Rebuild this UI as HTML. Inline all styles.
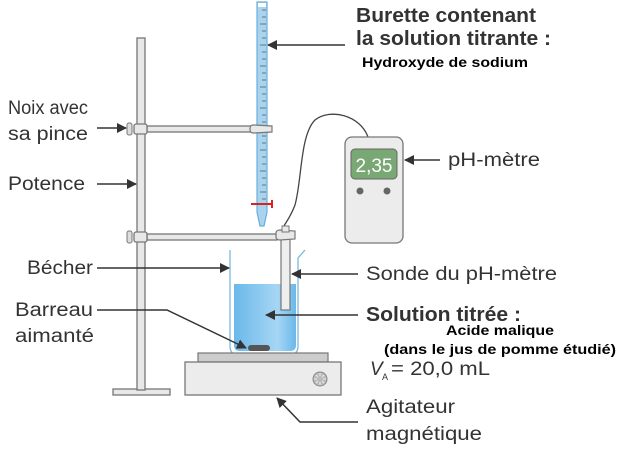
<!DOCTYPE html>
<html><head><meta charset="utf-8"><style>
html,body{margin:0;padding:0;background:#fff}
svg{display:block}
.t{font-family:"Liberation Sans",sans-serif;fill:#333;font-size:19px}
.b{font-family:"Liberation Sans",sans-serif;font-weight:bold;fill:#000;font-size:14px}
</style></head><body>
<svg width="639" height="449" viewBox="0 0 639 449" xmlns="http://www.w3.org/2000/svg">
<defs>
<marker id="ah" markerWidth="10" markerHeight="10" refX="9" refY="5" orient="auto" markerUnits="userSpaceOnUse">
<path d="M0,0 L10,5 L0,10 Z" fill="#333"/></marker>
<linearGradient id="liq" x1="0" x2="1"><stop offset="0" stop-color="#6ab8ea"/><stop offset="0.7" stop-color="#a6d6f4"/><stop offset="1" stop-color="#6ab8ea"/></linearGradient>
</defs>
<rect x="113" y="389" width="57" height="6" fill="#e8e8e8" stroke="#777" stroke-width="1.3"/>
<rect x="137" y="38" width="8" height="352" fill="#e8e8e8" stroke="#777" stroke-width="1.3"/>
<rect x="147" y="126" width="105" height="6" fill="#e8e8e8" stroke="#777" stroke-width="1.3"/>
<rect x="134" y="124" width="13" height="10" rx="2" fill="#e8e8e8" stroke="#777" stroke-width="1.3"/>
<rect x="127" y="123" width="5" height="12" rx="2" fill="#ddd" stroke="#777"/>
<path d="M257,2 L267,2 L267,212 L264,226 L260,226 L257,212 Z" fill="#a8d4f0" stroke="#6aaed8" stroke-width="1.2"/>
<rect x="258" y="3" width="8" height="4" fill="#fff"/>
<g stroke="#555" stroke-width="0.8">
<path d="M262,10h4M262,17h4M260,24h6M262,31h4M262,38h4M260,45h6M262,52h4M262,59h4M260,66h6M262,73h4M262,80h4M260,87h6M262,94h4M262,101h4M260,108h6M262,115h4M262,122h4M260,129h6M262,136h4M262,143h4M260,150h6M262,157h4M262,164h4M260,171h6M262,178h4M262,185h4M260,192h6M262,199h4"/>
</g>
<path d="M250,129 C250,125 252,125 254,125 L272,126 L272,132 L254,133 C252,133 250,133 250,129Z" fill="#e8e8e8" stroke="#777" stroke-width="1.2"/>
<path d="M251,204 H272 M272,200 V208" stroke="#d22" stroke-width="2" fill="none"/>
<rect x="147" y="234" width="130" height="6" fill="#e8e8e8" stroke="#777" stroke-width="1.3"/>
<rect x="134" y="232" width="13" height="10" rx="2" fill="#e8e8e8" stroke="#777" stroke-width="1.3"/>
<rect x="127" y="231" width="5" height="12" rx="2" fill="#ddd" stroke="#777"/>
<path d="M368,137 C360,115 330,108 315,120 C300,135 302,180 295,205 C290,218 286,222 284,226" fill="none" stroke="#444" stroke-width="1.3"/>
<path d="M234,284 H296 V345 Q296,351 290,351 H240 Q234,351 234,345Z" fill="url(#liq)"/>
<path d="M230,250 V346 Q230,355 239,355 H289 Q298,355 298,346 V258 L305,250" fill="none" stroke="#7ab8de" stroke-width="1.3"/>
<rect x="281" y="232" width="9" height="78" fill="#eee" stroke="#777" stroke-width="1.2"/>
<path d="M276,233 C276,231 278,230 280,230 L295,231 L295,239 L280,240 C278,240 276,239 276,237Z" fill="#e8e8e8" stroke="#777" stroke-width="1.2"/>
<rect x="282" y="226" width="7" height="6" fill="#e8e8e8" stroke="#777"/>
<rect x="248" y="345" width="22" height="6" rx="3" fill="#555"/>
<rect x="198" y="353" width="130" height="9" fill="#ccc" stroke="#777" stroke-width="1.2"/>
<rect x="185" y="362" width="156" height="33" fill="#ececec" stroke="#777" stroke-width="1.3"/>
<circle cx="320" cy="379" r="7" fill="#bbb" stroke="#888"/>
<g stroke="#eee" stroke-width="1"><path d="M320,373v12M314,379h12M316,375l8,8M324,375l-8,8"/></g>
<circle cx="320" cy="379" r="3" fill="#bbb"/>
<rect x="345" y="137" width="58" height="106" rx="7" fill="#ececec" stroke="#777" stroke-width="1.3"/>
<rect x="351" y="149" width="46" height="30" rx="4" fill="#7aa874" stroke="#666"/>
<text x="374" y="172" text-anchor="middle" font-family="Liberation Sans,sans-serif" font-size="19" fill="#fff">2,35</text>
<circle cx="360" cy="191" r="3.5" fill="#666"/><circle cx="387" cy="191" r="3.5" fill="#666"/>
<g stroke="#333" stroke-width="1.5" fill="none" marker-end="url(#ah)">
<line x1="345" y1="45" x2="268" y2="45"/>
<line x1="97" y1="128" x2="126" y2="128"/>
<line x1="97" y1="184" x2="136" y2="184"/>
<line x1="97" y1="268" x2="229" y2="268"/>
<polyline points="97,310 167,310 246,348"/>
<line x1="440" y1="160" x2="405" y2="160"/>
<line x1="358" y1="274" x2="292" y2="274"/>
<line x1="358" y1="315" x2="266" y2="315"/>
<polyline points="358,422 300,422 277,398"/>
</g>
<g lengthAdjust="spacingAndGlyphs">
<text class="t" x="356" y="22" font-weight="bold" style="font-size:20px" textLength="180" lengthAdjust="spacingAndGlyphs">Burette contenant</text>
<text class="t" x="356" y="45" font-weight="bold" style="font-size:20px" textLength="195" lengthAdjust="spacingAndGlyphs">la solution titrante :</text>
<text class="b" x="362" y="67" textLength="166" lengthAdjust="spacingAndGlyphs">Hydroxyde de sodium</text>
<text class="t" x="8" y="114" textLength="80" lengthAdjust="spacingAndGlyphs">Noix avec</text>
<text class="t" x="8" y="140" textLength="80" lengthAdjust="spacingAndGlyphs">sa pince</text>
<text class="t" x="8" y="190" textLength="77" lengthAdjust="spacingAndGlyphs">Potence</text>
<text class="t" x="27" y="274" textLength="66" lengthAdjust="spacingAndGlyphs">Bécher</text>
<text class="t" x="15" y="316" textLength="78" lengthAdjust="spacingAndGlyphs">Barreau</text>
<text class="t" x="15" y="342" textLength="79" lengthAdjust="spacingAndGlyphs">aimanté</text>
<text class="t" x="448" y="166" textLength="92" lengthAdjust="spacingAndGlyphs">pH-mètre</text>
<text class="t" x="366" y="280" textLength="191" lengthAdjust="spacingAndGlyphs">Sonde du pH-mètre</text>
<text class="t" x="366" y="321" font-weight="bold" style="font-size:20px" textLength="155" lengthAdjust="spacingAndGlyphs">Solution titrée :</text>
<text class="b" x="446" y="335" textLength="108" lengthAdjust="spacingAndGlyphs">Acide malique</text>
<text class="b" x="384" y="354" textLength="232" lengthAdjust="spacingAndGlyphs">(dans le jus de pomme étudié)</text>
<text class="t" x="370" y="375" font-style="italic">V</text>
<text class="t" x="382" y="380" style="font-size:9px">A</text>
<text class="t" x="391" y="375" textLength="99" lengthAdjust="spacingAndGlyphs">= 20,0 mL</text>
<text class="t" x="366" y="413" textLength="89" lengthAdjust="spacingAndGlyphs">Agitateur</text>
<text class="t" x="366" y="440" textLength="116" lengthAdjust="spacingAndGlyphs">magnétique</text>
</g>
</svg>
</body></html>
